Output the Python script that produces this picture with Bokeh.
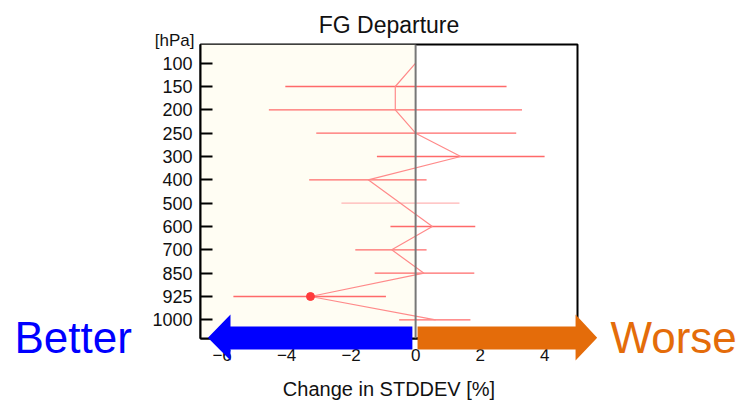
from bokeh.plotting import figure
from bokeh.models import (Range1d, FixedTicker, BoxAnnotation, Span,
                          ColumnDataSource)
from bokeh.core.properties import value
from bokeh.embed import file_html
from bokeh.resources import INLINE

nan = float("nan")

# ---- data ----
levels = ["100", "150", "200", "250", "300", "400", "500", "600", "700", "850", "925", "1000"]
mean_change = [0.0, -0.63, -0.63, 0.0, 1.4, -1.47, -0.47, 0.52, -0.74, 0.26, -3.26, 0.62]
err_low = [nan, -4.04, -4.55, -3.08, -1.2, -3.3, -2.3, -0.78, -1.87, -1.27, -5.65, -0.51]
err_high = [nan, 2.82, 3.3, 3.12, 4.0, 0.34, 1.36, 1.85, 0.34, 1.82, -0.92, 1.7]
significant = [False, False, False, False, False, False, False, False, False, False, True, False]
x_ticks = [-6, -4, -2, 0, 2, 4]

idx = list(range(len(levels)))
FONT = "Liberation Sans"
W, H = 749, 402
# frame box in canvas pixels
FL, FR, FT, FB = 200, 577, 44, 338
X0, X1 = -6.67, 5.02
Y0, Y1 = 11.8, -0.8      # bottom, top (pressure increases downward)

p = figure(width=W, height=H, output_backend="svg", toolbar_location=None,
           x_range=Range1d(X0, X1), y_range=Range1d(Y0, Y1),
           min_border_left=FL, min_border_right=W - FR, min_border_top=FT,
           min_border_bottom=H - FB, background_fill_color="white",
           border_fill_color="white")

p.title.text = "FG Departure"
p.title.align = "center"
p.title.text_font = FONT
p.title.text_font_size = "23px"
p.title.text_font_style = "normal"
p.title.text_color = "#111111"
p.title.standoff = 14

p.xgrid.visible = False
p.ygrid.visible = False
p.outline_line_color = "black"
p.outline_line_width = 2

# background of the "better" half
p.add_layout(BoxAnnotation(right=0, fill_color="#fffdf3", fill_alpha=1.0,
                           line_color=None, level="underlay"))

# y axis
p.yaxis.ticker = FixedTicker(ticks=idx)
p.yaxis.major_label_overrides = {i: lab for i, lab in zip(idx, levels)}
p.yaxis.major_tick_in = 12
p.yaxis.major_tick_out = 0
p.yaxis.minor_tick_line_color = None
p.yaxis.major_tick_line_width = 2
p.yaxis.axis_line_width = 2
p.yaxis.major_label_standoff = 8
p.yaxis.major_label_text_font = FONT
p.yaxis.major_label_text_font_size = "18px"
p.yaxis.major_label_text_color = "#111111"

# x axis
p.xaxis.ticker = FixedTicker(ticks=x_ticks)
p.xaxis.major_label_overrides = {t: str(t).replace("-", "\u2212") for t in x_ticks}
p.xaxis.major_tick_in = 6
p.xaxis.major_tick_out = 0
p.xaxis.minor_tick_line_color = None
p.xaxis.axis_line_width = 2
p.xaxis.major_label_standoff = 10
p.xaxis.major_label_text_font = FONT
p.xaxis.major_label_text_font_size = "17px"
p.xaxis.major_label_text_color = "#111111"

# zero line
p.add_layout(Span(location=0, dimension="height", line_color="#777777", line_width=2))

bar_colors = ["#ff6a6a"] * len(levels)
bar_colors[levels.index("500")] = "#ffb4b4"
src = ColumnDataSource(dict(y=idx, m=mean_change, lo=err_low, hi=err_high,
                            bc=bar_colors))

p.segment(x0="lo", y0="y", x1="hi", y1="y", source=src, line_color="bc",
          line_width=1.3)
p.line(x="m", y="y", source=src, line_color="#ff8a8a", line_width=1.2)
sx = [m for m, s in zip(mean_change, significant) if s]
sy = [i for i, s in zip(idx, significant) if s]
p.scatter(x=sx, y=sy, size=8, color="#ff3b3b")

# ---- overlay (arrows + texts that lie outside the plot frame) ----
def fx(x):
    return FL + (x - X0) * (FR - FL) / (X1 - X0)

def fy(y):
    return FT + (y - Y1) * (FB - FT) / (Y0 - Y1)

q = figure(width=W, height=H, output_backend="svg", toolbar_location=None,
           x_range=Range1d(0, W), y_range=Range1d(H, 0),
           min_border=0, background_fill_color=None, border_fill_color=None,
           outline_line_color=None, margin=(-H, 0, 0, 0))
q.axis.visible = False
q.grid.visible = False

blue_x = [-0.1, -5.74, -5.74, -6.44, -5.74, -5.74, -0.1]
orange_x = [0.06, 4.96, 4.96, 5.63, 4.96, 4.96, 0.06]
arrow_y = [11.29, 11.29, 10.77, 11.77, 12.74, 12.27, 12.27]
q.patch([fx(v) for v in blue_x], [fy(v) for v in arrow_y],
        fill_color="#0000ff", line_color=None)
q.patch([fx(v) for v in orange_x], [fy(v) for v in arrow_y],
        fill_color="#e46c0a", line_color=None)

q.text(x=[194], y=[40], text=["[hPa]"], text_align="right",
       text_baseline="alphabetic", text_font=value(FONT),
       text_font_size="17px", text_color="#111111")
q.text(x=[14], y=[337], text=["Better"], text_align="left",
       text_baseline="alphabetic", text_font=value(FONT),
       text_font_size="44px", text_color="#0000ff")
q.text(x=[610], y=[337], text=["Worse"], text_align="left",
       text_baseline="alphabetic", text_font=value(FONT),
       text_font_size="44px", text_color="#e46c0a")
q.text(x=[(FL + FR) / 2], y=[388], text=["Change in STDDEV [%]"],
       text_align="center", text_baseline="alphabetic", text_font=value(FONT),
       text_font_size="20px", text_color="#111111")

open("out.html", "w").write(file_html([p, q], INLINE))
